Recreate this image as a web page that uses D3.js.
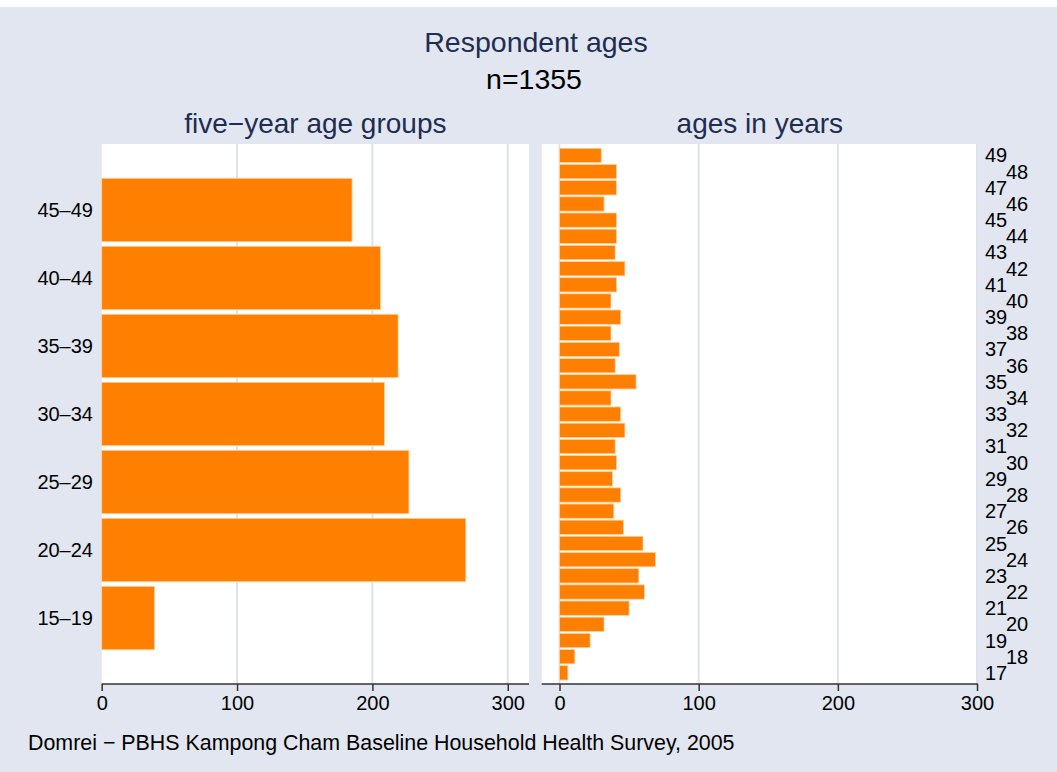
<!DOCTYPE html>
<html>
<head>
<meta charset="utf-8">
<script src="https://d3js.org/d3.v7.min.js"></script>
<style>
body { margin: 0; background: #fff; }
svg { display: block; font-family: "Liberation Sans", Arial, Helvetica, sans-serif; }
</style>
</head>
<body>
<svg id="chart" width="1057" height="772"></svg>
<script>
// five-year groups (left panel)
var groupLabels = ["15\u201319", "20\u201324", "25\u201329", "30\u201334", "35\u201339", "40\u201344", "45\u201349"];
var groupStarts = [15, 20, 25, 30, 35, 40, 45];
var groupCounts = [39, 269, 227, 209, 219, 206, 185];

// single years (right panel)
var ages = [17, 18, 19, 20, 21, 22, 23, 24, 25, 26, 27, 28, 29, 30, 31, 32, 33,
            34, 35, 36, 37, 38, 39, 40, 41, 42, 43, 44, 45, 46, 47, 48, 49];
var ageCounts = [6, 11, 22, 32, 50, 61, 57, 69, 60, 46, 39, 44, 38, 41, 40, 47, 44,
                 37, 55, 40, 43, 37, 44, 37, 41, 47, 40, 41, 41, 32, 41, 41, 30];

var xTicks = [0, 100, 200, 300];

var svg = d3.select("#chart");

var bg = "#e1e6f0",
    grid = "#dde2ec",
    orange = "#ff8000",
    navy = "#1f2d50";

svg.append("rect")
  .attr("x", 0).attr("y", 7)
  .attr("width", 1057).attr("height", 765)
  .attr("fill", bg);

// titles
svg.append("text")
  .attr("x", 536).attr("y", 52)
  .attr("text-anchor", "middle")
  .style("font-size", "28.5px").attr("fill", navy)
  .text("Respondent ages");

svg.append("text")
  .attr("x", 534).attr("y", 89)
  .attr("text-anchor", "middle")
  .style("font-size", "28.5px").attr("fill", "#000")
  .text("n=1355");

var plotTop = 144, plotBottom = 684;

// ---------- left panel ----------
var left = {x0: 101.7, x1: 529};
var xLeft = d3.scaleLinear().domain([0, 315.7]).range([left.x0, left.x1]);
var yLeft = d3.scaleLinear().domain([12.65, 52.35]).range([plotBottom, plotTop]);

svg.append("rect")
  .attr("x", left.x0).attr("y", plotTop)
  .attr("width", left.x1 - left.x0).attr("height", plotBottom - plotTop)
  .attr("fill", "#fff");

svg.append("text")
  .attr("x", (left.x0 + left.x1) / 2).attr("y", 133)
  .attr("text-anchor", "middle")
  .style("font-size", "28px").attr("fill", navy)
  .text("five\u2212year age groups");

var gl = svg.append("g");

gl.selectAll(".grid")
  .data(xTicks.slice(1))
  .enter().append("line")
  .attr("x1", function(d) { return xLeft(d); })
  .attr("x2", function(d) { return xLeft(d); })
  .attr("y1", plotTop).attr("y2", plotBottom)
  .attr("stroke", grid).attr("stroke-width", 2);

gl.selectAll(".bar")
  .data(groupCounts)
  .enter().append("rect")
  .attr("class", "bar")
  .attr("x", xLeft(0))
  .attr("y", function(d, i) { return yLeft(groupStarts[i] + 5) + 2.3; })
  .attr("width", function(d) { return xLeft(d) - xLeft(0); })
  .attr("height", function(d, i) { return yLeft(groupStarts[i]) - yLeft(groupStarts[i] + 5) - 4.6; })
  .attr("fill", orange)
  .attr("stroke", "#ffd3a6").attr("stroke-width", 0.8);

gl.selectAll(".ylab")
  .data(groupLabels)
  .enter().append("text")
  .attr("x", 93)
  .attr("y", function(d, i) { return yLeft(groupStarts[i] + 2.5); })
  .attr("dy", "0.35em")
  .attr("text-anchor", "end")
  .style("font-size", "20px")
  .text(function(d) { return d; });

var axLeft = svg.append("g")
  .attr("transform", "translate(0," + plotBottom + ")")
  .call(d3.axisBottom(xLeft).tickValues(xTicks).tickSize(7).tickPadding(5).tickSizeOuter(0));

// ---------- right panel ----------
var right = {x0: 541.7, x1: 978};
var xRight = d3.scaleLinear().domain([-12.8, 300.7]).range([right.x0, right.x1]);
var yRight = d3.scaleLinear().domain([16.31, 49.71]).range([plotBottom, plotTop]);

svg.append("rect")
  .attr("x", right.x0).attr("y", plotTop)
  .attr("width", right.x1 - right.x0).attr("height", plotBottom - plotTop)
  .attr("fill", "#fff");

svg.append("text")
  .attr("x", (right.x0 + right.x1) / 2).attr("y", 133)
  .attr("text-anchor", "middle")
  .style("font-size", "28px").attr("fill", navy)
  .text("ages in years");

var gr = svg.append("g");

gr.selectAll(".grid")
  .data(xTicks)
  .enter().append("line")
  .attr("x1", function(d) { return xRight(d); })
  .attr("x2", function(d) { return xRight(d); })
  .attr("y1", plotTop).attr("y2", plotBottom)
  .attr("stroke", grid).attr("stroke-width", 2);

gr.selectAll(".bar")
  .data(ageCounts)
  .enter().append("rect")
  .attr("class", "bar")
  .attr("x", xRight(0))
  .attr("y", function(d, i) { return yRight(ages[i] + 0.5) + 0.9; })
  .attr("width", function(d) { return xRight(d) - xRight(0); })
  .attr("height", function(d, i) { return yRight(ages[i] - 0.5) - yRight(ages[i] + 0.5) - 1.8; })
  .attr("fill", orange)
  .attr("stroke", "#ffd3a6").attr("stroke-width", 0.8);

// alternating labels on the right
gr.selectAll(".ylab")
  .data(ages)
  .enter().append("text")
  .attr("x", function(d) { return d % 2 == 1 ? 985 : 1006; })
  .attr("y", function(d) { return yRight(d); })
  .attr("dy", "0.35em")
  .style("font-size", "20px")
  .text(function(d) { return d; });

var axRight = svg.append("g")
  .attr("transform", "translate(0," + plotBottom + ")")
  .call(d3.axisBottom(xRight).tickValues(xTicks).tickSize(7).tickPadding(5).tickSizeOuter(0));

// axis styling
svg.selectAll(".domain")
  .attr("stroke", "#333").attr("stroke-width", 1.5);
svg.selectAll(".tick line")
  .attr("stroke", "#333").attr("stroke-width", 1.5);
svg.selectAll(".tick text")
  .style("font-size", "20px")
  .style("font-family", "'Liberation Sans', Arial, sans-serif")
  .attr("fill", "#000");

// extend axis lines to the panel edges
axLeft.select(".domain").attr("d", "M" + left.x0 + ",0H" + left.x1);
axRight.select(".domain").attr("d", "M" + right.x0 + ",0H" + right.x1);

// note
svg.append("text")
  .attr("x", 28).attr("y", 750)
  .style("font-size", "21.4px")
  .text("Domrei \u2212 PBHS Kampong Cham Baseline Household Health Survey, 2005");
</script>
</body>
</html>
